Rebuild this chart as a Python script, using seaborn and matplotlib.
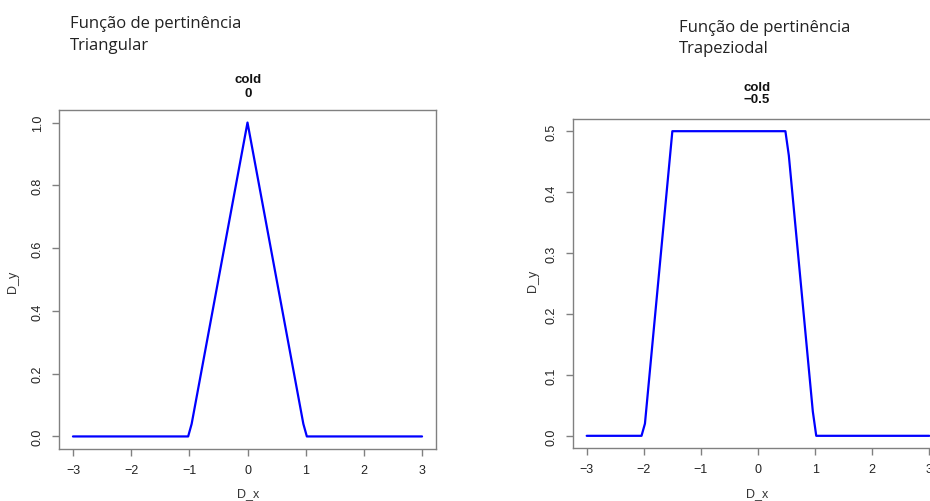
import matplotlib
matplotlib.use('Agg')
import matplotlib.pyplot as plt
import seaborn as sns

# Triangular membership function (vertices)
tri_x = [-3.0, -1.02, -0.96, 0.0, 0.96, 1.02, 3.0]
tri_y = [0.0, 0.0, 0.04, 1.0, 0.04, 0.0, 0.0]

# Trapezoidal membership function
trap_x = [-3.0, -2.04, -1.98, -1.5, 0.48, 0.54, 0.96, 1.02, 3.0]
trap_y = [0.0, 0.0, 0.02, 0.5, 0.5, 0.46, 0.04, 0.0, 0.0]

x_ticks = [-3, -2, -1, 0, 1, 2, 3]
tri_yticks = [0.0, 0.2, 0.4, 0.6, 0.8, 1.0]
trap_yticks = [0.0, 0.1, 0.2, 0.3, 0.4, 0.5]

sns.set_style('white')
plt.rcParams['font.family'] = ['Liberation Sans', 'DejaVu Sans']

W, H = 930, 502
fig = plt.figure(figsize=(W / 100, H / 100), dpi=100)


def px_axes(x0, y0, x1, y1):
    # axes rectangle from pixel box (top-left origin)
    return fig.add_axes([x0 / W, 1 - y1 / H, (x1 - x0) / W, (y1 - y0) / H])


def style_axes(ax, yticks, ylim):
    ax.set_xlim(-3.24, 3.24)
    ax.set_ylim(*ylim)
    ax.set_xticks(x_ticks)
    ax.set_xticklabels([str(t).replace('-', '\u2212') for t in x_ticks])
    ax.set_yticks(yticks)
    ax.set_yticklabels([f'{t:.1f}' for t in yticks], rotation=90, va='center')
    for s in ax.spines.values():
        s.set_color('#808080')
        s.set_linewidth(1.0)
        s.set_visible(True)
    ax.tick_params(axis='both', direction='out', length=5, width=1,
                   color='#808080', labelsize=9, labelcolor='#222222',
                   bottom=True, left=True)
    ax.tick_params(axis='x', pad=6)
    ax.tick_params(axis='y', pad=6)
    ax.set_xlabel('')
    ax.set_ylabel('')


ax1 = px_axes(59, 111, 436, 450)
sns.lineplot(x=tri_x, y=tri_y, ax=ax1, color='#0000ff', linewidth=1.6,
             estimator=None, sort=False)
style_axes(ax1, tri_yticks, (-0.04, 1.04))

ax2 = px_axes(573, 120, 943, 449)
sns.lineplot(x=trap_x, y=trap_y, ax=ax2, color='#0000ff', linewidth=1.6,
             estimator=None, sort=False)
style_axes(ax2, trap_yticks, (-0.02, 0.52))


def ptext(x, y, s, **kw):
    fig.text(x / W, 1 - y / H, s, **kw)


# R-style titles and axis labels
tk = dict(ha='center', va='baseline', fontsize=9.5, fontweight='bold', color='#111111')
ptext(248, 83, 'cold', **tk)
ptext(248, 97, '0', **tk)
ptext(757, 91, 'cold', **tk)
ptext(757, 103, '\u22120.5', **tk)

lk = dict(fontsize=9, color='#333333')
ptext(248, 497, 'D_x', ha='center', va='baseline', **lk)
ptext(757, 497, 'D_x', ha='center', va='baseline', **lk)
ptext(13, 282, 'D_y', ha='center', va='center', rotation=90, **lk)
ptext(533, 281, 'D_y', ha='center', va='center', rotation=90, **lk)

# headers pasted above the plots
hk = dict(ha='left', va='baseline', fontsize=12, color='#222222',
          family=['Open Sans', 'DejaVu Sans'])
ptext(70, 28, 'Função de pertinência', **hk)
ptext(70, 50, 'Triangular', **hk)
ptext(679, 32, 'Função de pertinência', **hk)
ptext(679, 53, 'Trapeziodal', **hk)

fig.savefig('out.png', dpi=100)
